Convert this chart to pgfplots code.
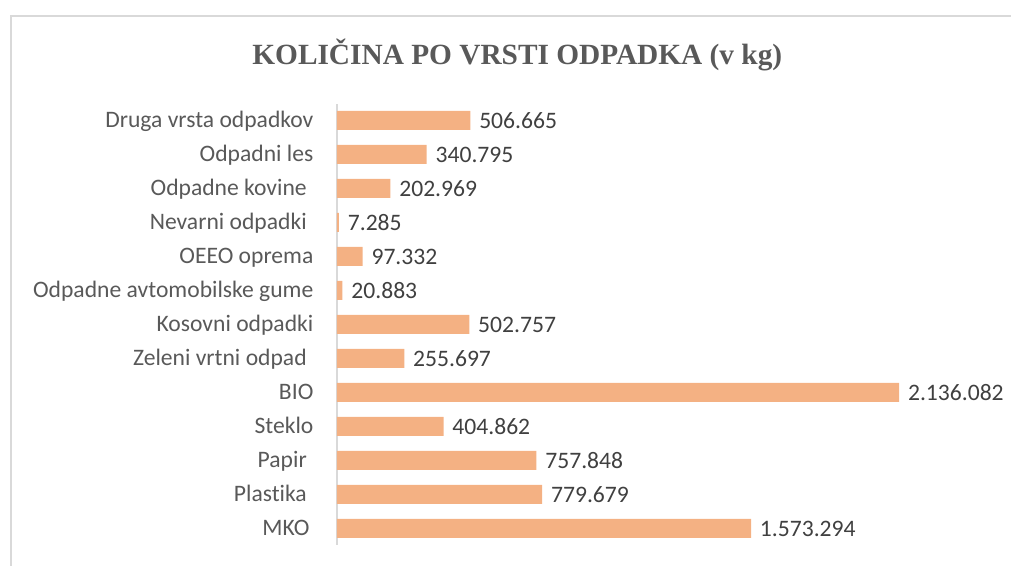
\documentclass[border=0pt]{standalone}
\usepackage{fontspec}
\setmainfont{Carlito}[Ligatures={NoCommon,NoContextual}]
\newfontfamily\titlefont{Liberation Serif}
\usepackage{pgfplots}
\pgfplotsset{compat=1.18}
\definecolor{barfill}{HTML}{F4B183}
\definecolor{labgray}{HTML}{595959}
\definecolor{valgray}{HTML}{404040}
\definecolor{framegray}{HTML}{D9D9D9}

\begin{document}
\begin{tikzpicture}
    \useasboundingbox (0,0) rectangle (758.25pt,424.5pt);
    \clip (0,0) rectangle (758.25pt,424.5pt);
    % chart frame (runs off the right and bottom edges)
    \draw[framegray, line width=1.5pt] (7.9pt,-5pt) -- (7.9pt,412.5pt) -- (770pt,412.5pt);

    \node[text=labgray, font=\titlefont\bfseries\fontsize{22pt}{24pt}\selectfont]
        at (388pt,383.25pt) {KOLIČINA PO VRSTI ODPADKA (v kg)};

    \begin{axis}[
        at={(252.75pt,15.75pt)}, anchor=south west,
        scale only axis,
        width=497.25pt, height=330.75pt,
        xbar, bar width=0.559,
        xmin=0, xmax=2519400,
        ymin=-0.488, ymax=12.485,
        hide x axis,
        axis y line*=left,
        y axis line style={framegray, line width=1.5pt},
        ytick={0,1,...,12},
        major tick length=0pt,
        yticklabels={MKO\kern3pt, Plast\kern0pt{}ika\kern5pt, Papir\kern5pt, Steklo, BIO,
            Zeleni vrtni odpad\kern5pt, Kosovni odpadki, Odpadne avtomobilske gume,
            OEEO oprema, Nevarni odpadki\kern5pt, Odpadne kovine\kern5pt,
            Odpadni les, Druga vrsta odpadkov},
        yticklabel style={anchor=base east, inner sep=0pt, xshift=-17.5pt, yshift=-5.1pt,
            text=labgray, font=\fontsize{17.7pt}{20pt}\selectfont},
        point meta=explicit symbolic,
        nodes near coords={\pgfplotspointmeta},
        nodes near coords style={anchor=base west, inner sep=0pt, xshift=6.5pt, yshift=-6.2pt,
            text=valgray, font=\fontsize{17.7pt}{20pt}\selectfont},
        clip=false,
    ]
    \addplot[fill=barfill, draw=none] coordinates {
        (1573294,0) [1.573.294]
        (779679,1) [779.679]
        (757848,2) [757.848]
        (404862,3) [404.862]
        (2136082,4) [2.136.082]
        (255697,5) [255.697]
        (502757,6) [502.757]
        (20883,7) [20.883]
        (97332,8) [97.332]
        (7285,9) [7.285]
        (202969,10) [202.969]
        (340795,11) [340.795]
        (506665,12) [506.665]
    };
    \end{axis}
\end{tikzpicture}
\end{document}
